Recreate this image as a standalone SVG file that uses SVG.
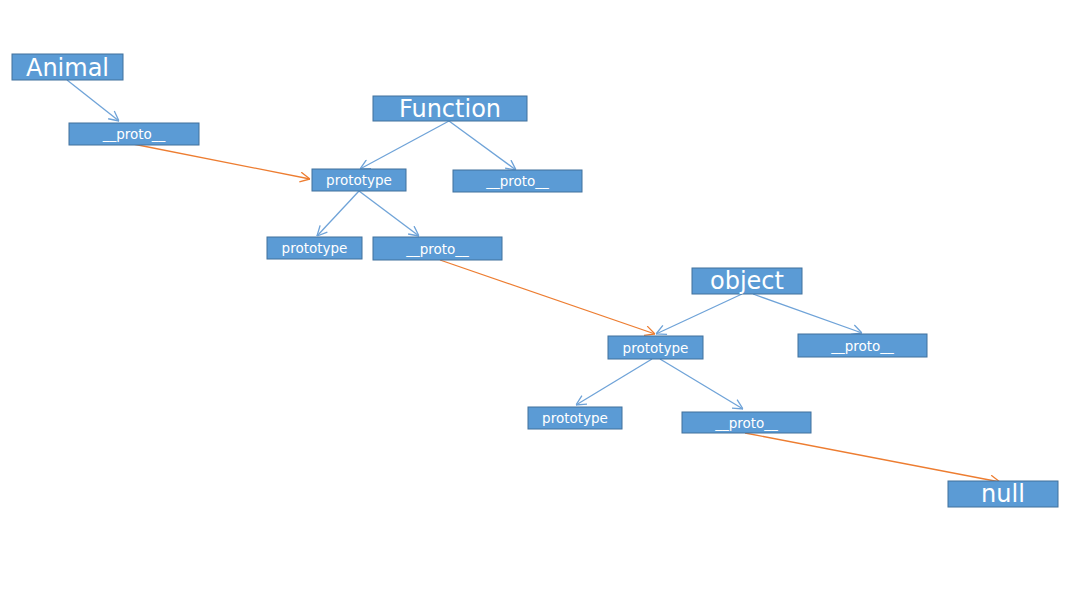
<svg xmlns="http://www.w3.org/2000/svg" width="1092" height="594" viewBox="0 0 1092 594">
<style>
.box{fill:#5B9BD5;stroke:#41719C;stroke-width:1}
.big{font-family:"DejaVu Sans",sans-serif;font-size:24px;fill:#fff;text-anchor:middle}
.sm{font-family:"DejaVu Sans",sans-serif;font-size:13.5px;fill:#fff;text-anchor:middle}
.b{stroke:#6FA3D8;stroke-width:1.3;fill:none;marker-end:url(#ab)}
.o{stroke:#ED7D31;stroke-width:1.3;fill:none;marker-end:url(#ao)}
</style>
<defs>
<marker id="ab" viewBox="0 0 10 10" refX="10" refY="5" markerWidth="11" markerHeight="11" markerUnits="userSpaceOnUse" orient="auto"><path d="M1,0.5 L10,5 L1,9.5" fill="none" stroke="#6FA3D8" stroke-width="1.2"/></marker>
<marker id="ao" viewBox="0 0 10 10" refX="10" refY="5" markerWidth="11" markerHeight="11" markerUnits="userSpaceOnUse" orient="auto"><path d="M1,0.5 L10,5 L1,9.5" fill="none" stroke="#ED7D31" stroke-width="1.2"/></marker>
</defs>
<rect width="1092" height="594" fill="#fff"/>
<g id="connectors">
<line class="b" x1="67" y1="80" x2="119" y2="121"/>
<line class="o" x1="133" y1="144" x2="310" y2="179"/>
<line class="b" x1="449" y1="121" x2="360" y2="169"/>
<line class="b" x1="449" y1="121" x2="516" y2="170"/>
<line class="b" x1="359" y1="191" x2="317" y2="236"/>
<line class="b" x1="359" y1="191" x2="419" y2="236"/>
<line class="o" x1="440" y1="260" x2="655" y2="334"/>
<line class="b" x1="742" y1="294" x2="656" y2="334"/>
<line class="b" x1="753" y1="294" x2="862" y2="333"/>
<line class="b" x1="652" y1="359" x2="576" y2="405"/>
<line class="b" x1="660" y1="359" x2="743" y2="409"/>
<line class="o" x1="745" y1="433" x2="1000" y2="482"/>
</g>
<g id="animal"><rect class="box" x="12" y="54" width="111" height="26"/><text class="big" x="67.5" y="75.5">Animal</text></g>
<g id="animal-proto"><rect class="box" x="69" y="123" width="130" height="22"/><text class="sm" x="134" y="139">__proto__</text></g>
<g id="function"><rect class="box" x="373" y="96" width="154" height="25"/><text class="big" x="450" y="117">Function</text></g>
<g id="function-prototype"><rect class="box" x="312" y="169" width="94" height="22"/><text class="sm" x="359" y="185">prototype</text></g>
<g id="function-proto"><rect class="box" x="453" y="170" width="129" height="22"/><text class="sm" x="517.5" y="186">__proto__</text></g>
<g id="fp-prototype"><rect class="box" x="267" y="237" width="95" height="22"/><text class="sm" x="314.5" y="253">prototype</text></g>
<g id="fp-proto"><rect class="box" x="373" y="237" width="129" height="23"/><text class="sm" x="437.5" y="253.5">__proto__</text></g>
<g id="object"><rect class="box" x="692" y="268" width="110" height="26"/><text class="big" x="747" y="289">object</text></g>
<g id="object-prototype"><rect class="box" x="608" y="336" width="95" height="23"/><text class="sm" x="655.5" y="352.5">prototype</text></g>
<g id="object-proto"><rect class="box" x="798" y="334" width="129" height="23"/><text class="sm" x="862.5" y="350.5">__proto__</text></g>
<g id="op-prototype"><rect class="box" x="528" y="407" width="94" height="22"/><text class="sm" x="575" y="423">prototype</text></g>
<g id="op-proto"><rect class="box" x="682" y="412" width="129" height="21"/><text class="sm" x="746.5" y="427.5">__proto__</text></g>
<g id="null"><rect class="box" x="948" y="481" width="110" height="26"/><text class="big" x="1003" y="502">null</text></g>
</svg>
